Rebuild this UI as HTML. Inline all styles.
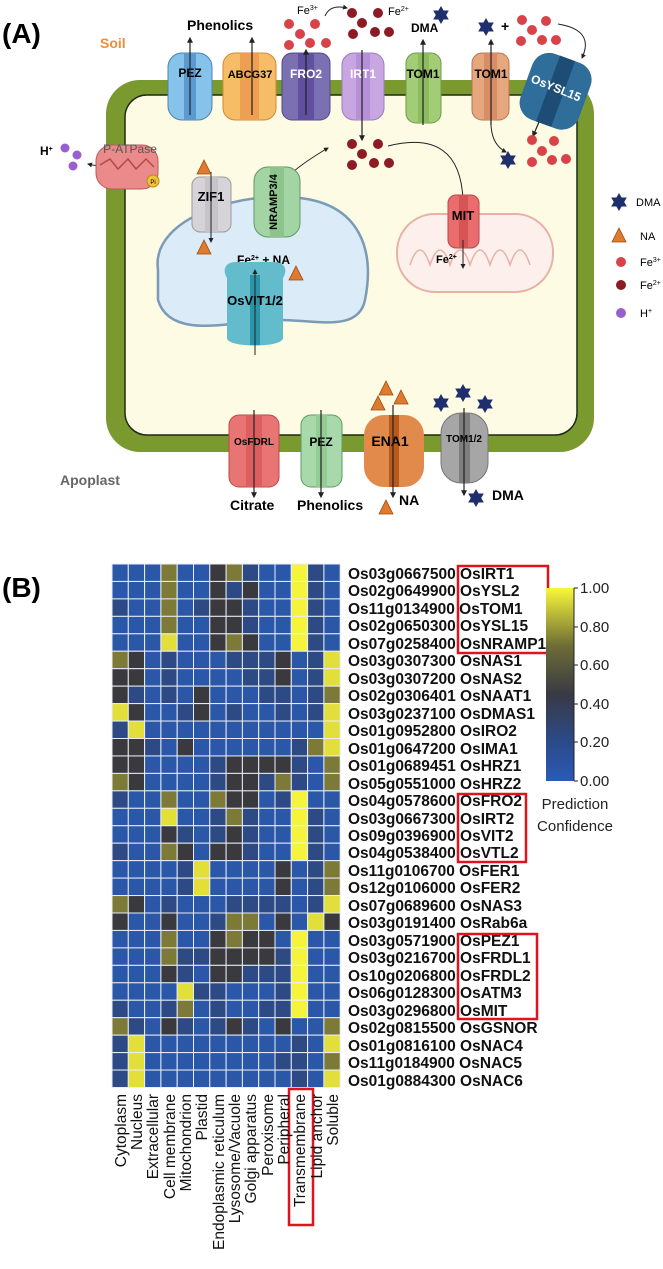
<!DOCTYPE html>
<html><head><meta charset="utf-8"><style>
html,body{margin:0;padding:0;background:#fff;}
svg{display:block;font-family:"Liberation Sans",Arial,sans-serif;}
</style></head><body>
<svg id="s" width="663" height="1269" viewBox="0 0 663 1269" xmlns="http://www.w3.org/2000/svg">
<defs>
<marker id="ah" viewBox="0 0 10 10" refX="8" refY="5" markerWidth="5" markerHeight="5" orient="auto"><path d="M0,0L10,5L0,10z" fill="#222"/></marker>
<g id="star"><polygon points="0,-9 2.6,-4.5 7.8,-4.5 5.2,0 7.8,4.5 2.6,4.5 0,9 -2.6,4.5 -7.8,4.5 -5.2,0 -7.8,-4.5 -2.6,-4.5" fill="#1f2f6e"/></g>
<g id="tri"><polygon points="0,-8 7,6 -7,6" fill="#e07a2e" stroke="#9a4a14" stroke-width="0.8"/></g>
</defs>
<!-- Panel A -->
<text x="2" y="43" font-size="28" font-weight="bold">(A)</text>
<text x="100" y="48" font-size="14" font-weight="bold" fill="#e8913a">Soil</text>
<rect x="106" y="80" width="488" height="372" rx="34" fill="#7a9a30"/>
<rect x="125" y="95" width="452" height="340" rx="22" fill="#fdfbe4" stroke="#1e2a14" stroke-width="1.5"/>
<g stroke-width="1">
<rect x="168" y="53" width="44" height="67" rx="14" fill="#86c3ea" stroke="#4a84b4"/><rect x="184" y="53" width="12" height="67" fill="#5a9ad0"/>
<rect x="223" y="53" width="53" height="67" rx="12" fill="#f7bd66" stroke="#d08a38"/><rect x="240" y="53" width="19" height="67" fill="#eda052"/>
<rect x="282" y="53" width="48" height="67" rx="10" fill="#7b70b2" stroke="#54488e"/><rect x="298" y="53" width="16" height="67" fill="#6150a0"/>
<rect x="342" y="53" width="42" height="67" rx="12" fill="#c7a6e2" stroke="#9a7cc0"/><rect x="356" y="53" width="14" height="67" fill="#b590d8"/>
<rect x="406" y="53" width="35" height="70" rx="10" fill="#a2cc76" stroke="#6e9a48"/><rect x="418" y="53" width="11" height="70" fill="#8cbc5e"/>
<rect x="472" y="53" width="37" height="67" rx="10" fill="#e6a67e" stroke="#b87450"/><rect x="484" y="53" width="13" height="67" fill="#d88e64"/>
<g transform="rotate(20 555 90)"><rect x="525" y="56" width="62" height="70" rx="18" fill="#2f6e9a"/><rect x="548" y="56" width="16" height="70" fill="#1d4d74"/></g>
</g>
<g font-size="12" font-weight="bold" text-anchor="middle">
<text x="190" y="77">PEZ</text><text x="250" y="78" font-size="11">ABCG37</text><text x="306" y="78" fill="#fff">FRO2</text>
<text x="363" y="78" fill="#fff">IRT1</text><text x="423" y="78">TOM1</text><text x="491" y="78">TOM1</text>
<text x="556" y="92" fill="#fff" transform="rotate(22 556 88)">OsYSL15</text>
</g>
<g stroke="#222" stroke-width="1.2" marker-end="url(#ah)">
<line x1="190" y1="115" x2="190" y2="38"/><line x1="252" y1="115" x2="252" y2="38"/><line x1="306" y1="115" x2="306" y2="50"/>
<line x1="362" y1="50" x2="362" y2="140"/><line x1="423" y1="125" x2="423" y2="40"/><line x1="491" y1="125" x2="491" y2="40"/>
<line x1="539" y1="122" x2="533" y2="136"/>
</g>
<g fill="none" stroke="#222" stroke-width="1" marker-end="url(#ah)">
<path d="M325,16 Q330,4 347,8"/><path d="M558,24 Q595,30 582,58"/><path d="M491,125 Q492,145 506,152"/>
<path d="M272,198 Q280,176 328,148"/><path d="M388,146 Q460,128 463,200"/><path d="M115,164 Q104,168 88,164"/>
</g>
<g font-size="14" font-weight="bold"><text x="187" y="30">Phenolics</text><text x="411" y="32" font-size="12">DMA</text></g>
<g font-size="11"><text x="297" y="14">Fe<tspan font-size="7" dy="-4">3+</tspan></text><text x="388" y="15">Fe<tspan font-size="7" dy="-4">2+</tspan></text>
<text x="501" y="31" font-size="14" font-weight="bold">+</text></g>
<use href="#star" x="441" y="15"/><use href="#star" x="486" y="27"/><use href="#star" x="508" y="160"/>
<g fill="#d8434a">
<circle cx="289" cy="24" r="5"/><circle cx="315" cy="24" r="5"/><circle cx="300" cy="34" r="5"/><circle cx="289" cy="45" r="5"/><circle cx="310" cy="43" r="5"/><circle cx="326" cy="43" r="5"/>
<circle cx="522" cy="20" r="5"/><circle cx="546" cy="21" r="5"/><circle cx="532" cy="30" r="5"/><circle cx="521" cy="41" r="5"/><circle cx="542" cy="40" r="5"/><circle cx="556" cy="40" r="5"/>
<circle cx="532" cy="140" r="5"/><circle cx="554" cy="141" r="5"/><circle cx="542" cy="151" r="5"/><circle cx="532" cy="162" r="5"/><circle cx="552" cy="160" r="5"/><circle cx="566" cy="159" r="5"/>
</g>
<g fill="#8c1b24">
<circle cx="352" cy="13" r="5"/><circle cx="378" cy="13" r="5"/><circle cx="362" cy="23" r="5"/><circle cx="353" cy="34" r="5"/><circle cx="375" cy="32" r="5"/><circle cx="389" cy="32" r="5"/>
<circle cx="352" cy="144" r="5"/><circle cx="378" cy="144" r="5"/><circle cx="362" cy="154" r="5"/><circle cx="352" cy="165" r="5"/><circle cx="374" cy="163" r="5"/><circle cx="389" cy="163" r="5"/>
<circle cx="229" cy="270" r="5"/>
</g>
<text x="40" y="155" font-size="12" font-weight="bold">H<tspan font-size="7" dy="-4">+</tspan></text>
<g fill="#9a5fcf"><circle cx="65" cy="148" r="4.5"/><circle cx="77" cy="155" r="4.5"/><circle cx="73" cy="166" r="4.5"/></g>
<rect x="96" y="145" width="62" height="44" rx="16" fill="#ea8a8a" stroke="#b85a5a"/>
<path d="M100,165 l10,-6 l8,10 l10,-10 l8,10 l10,-10 l8,8" fill="none" stroke="#b04a4a" stroke-width="1.5"/>
<text x="130" y="153" font-size="12" text-anchor="middle" fill="#555">P-ATPase</text>
<circle cx="153" cy="181" r="6" fill="#f2c23a" stroke="#b88a10"/><text x="153" y="184" font-size="6" text-anchor="middle">Pi</text>
<path d="M158,270 C150,215 250,190 300,198 C360,205 375,250 365,300 C358,335 310,318 270,320 C230,322 170,340 158,300 Z" fill="#dcebf8" stroke="#7a9ab6" stroke-width="2.5"/>
<rect x="192" y="177" width="39" height="55" rx="8" fill="#d6d4d8" stroke="#9a9a9a"/><rect x="205" y="177" width="13" height="55" fill="#c6c4ca"/>
<text x="211" y="201" font-size="13" font-weight="bold" text-anchor="middle">ZIF1</text>
<line x1="211" y1="172" x2="211" y2="242" stroke="#222" marker-end="url(#ah)"/>
<use href="#tri" x="204" y="168"/><use href="#tri" x="204" y="248"/><use href="#tri" x="296" y="274"/>
<rect x="254" y="167" width="46" height="70" rx="14" fill="#a3d4a3" stroke="#5f9a5f"/><rect x="270" y="167" width="14" height="70" fill="#8cc48c"/>
<text x="277" y="202" font-size="11" font-weight="bold" text-anchor="middle" transform="rotate(-90 277 202)">NRAMP3/4</text>
<text x="237" y="264" font-size="12" font-weight="bold">Fe<tspan font-size="7" dy="-4">2+</tspan><tspan dy="4"> + NA</tspan></text>
<path d="M227,278 C222,270 225,262 236,262 L274,262 C285,262 288,270 283,278 L283,338 C283,348 227,348 227,338 Z" fill="#63bccb"/>
<rect x="250" y="275" width="10" height="70" fill="#2a95a8"/>
<text x="255" y="305" font-size="13" font-weight="bold" text-anchor="middle">OsVIT1/2</text>
<line x1="255" y1="355" x2="255" y2="270" stroke="#222" marker-end="url(#ah)"/>
<rect x="397" y="214" width="156" height="78" rx="38" fill="#fcefec" stroke="#e6b2a6" stroke-width="2"/>
<path d="M410,265 q10,-30 20,0 q10,-30 20,0 q10,-30 20,0 q10,-30 20,0 q10,-30 20,0 q10,-30 20,0" fill="none" stroke="#e6b2a6" stroke-width="1.5"/>
<rect x="448" y="195" width="31" height="53" rx="8" fill="#ea6c6c" stroke="#b84848"/><rect x="459" y="195" width="9" height="53" fill="#d65454"/>
<text x="463" y="220" font-size="13" font-weight="bold" text-anchor="middle">MIT</text>
<line x1="463" y1="240" x2="463" y2="268" stroke="#222" marker-end="url(#ah)"/>
<text x="436" y="263" font-size="11" font-weight="bold">Fe<tspan font-size="7" dy="-4">2+</tspan></text>
<use href="#star" x="619" y="202"/><text x="636" y="206" font-size="11">DMA</text>
<use href="#tri" x="619" y="236"/><text x="640" y="240" font-size="11">NA</text>
<circle cx="621" cy="262" r="5" fill="#d8434a"/><text x="640" y="266" font-size="11">Fe<tspan font-size="7" dy="-4">3+</tspan></text>
<circle cx="621" cy="285" r="5" fill="#8c1b24"/><text x="640" y="289" font-size="11">Fe<tspan font-size="7" dy="-4">2+</tspan></text>
<circle cx="621" cy="313" r="5" fill="#9a5fcf"/><text x="640" y="317" font-size="11">H<tspan font-size="7" dy="-4">+</tspan></text>
<rect x="229" y="415" width="50" height="72" rx="10" fill="#e87474" stroke="#b84a4a"/><rect x="246" y="415" width="16" height="72" fill="#dc5e5e"/>
<rect x="301" y="415" width="41" height="72" rx="10" fill="#a8d9aa" stroke="#5f9a62"/><rect x="316" y="415" width="11" height="72" fill="#94cc98"/>
<rect x="364" y="415" width="60" height="72" rx="20" fill="#e28a4c"/><rect x="389" y="415" width="10" height="72" fill="#b85a1e"/>
<rect x="441" y="413" width="47" height="70" rx="20" fill="#a6a6a6" stroke="#777"/><rect x="459" y="413" width="11" height="70" fill="#7e7e7e"/>
<g font-size="12" font-weight="bold" text-anchor="middle">
<text x="254" y="445" font-size="10">OsFDRL</text><text x="321" y="446">PEZ</text><text x="390" y="446" font-size="14">ENA1</text><text x="464" y="442" font-size="10">TOM1/2</text>
</g>
<g stroke="#222" stroke-width="1.2" marker-end="url(#ah)">
<line x1="254" y1="410" x2="254" y2="497"/><line x1="321" y1="410" x2="321" y2="497"/><line x1="393" y1="405" x2="393" y2="497"/><line x1="464" y1="408" x2="464" y2="495"/>
</g>
<use href="#tri" x="386" y="389"/><use href="#tri" x="401" y="398"/><use href="#tri" x="378" y="404"/><use href="#tri" x="386" y="508"/>
<use href="#star" x="441" y="403"/><use href="#star" x="463" y="393"/><use href="#star" x="485" y="404"/><use href="#star" x="476" y="498"/>
<g font-size="14" font-weight="bold"><text x="230" y="510">Citrate</text><text x="297" y="510">Phenolics</text><text x="399" y="505">NA</text><text x="492" y="500">DMA</text></g>
<text x="60" y="485" font-size="14" font-weight="bold" fill="#666">Apoplast</text>
<!-- Panel B -->
<text x="2" y="597" font-size="28" font-weight="bold">(B)</text>
<g id="hm"></g>
<g font-size="15.5" font-weight="bold" fill="#111">
<text x="348" y="579">Os03g0667500 OsIRT1</text><text x="348" y="596">Os02g0649900 OsYSL2</text><text x="348" y="614">Os11g0134900 OsTOM1</text>
<text x="348" y="631">Os02g0650300 OsYSL15</text><text x="348" y="649">Os07g0258400 OsNRAMP1</text><text x="348" y="666">Os03g0307300 OsNAS1</text>
<text x="348" y="684">Os03g0307200 OsNAS2</text><text x="348" y="701">Os02g0306401 OsNAAT1</text><text x="348" y="719">Os03g0237100 OsDMAS1</text>
<text x="348" y="736">Os01g0952800 OsIRO2</text><text x="348" y="754">Os01g0647200 OsIMA1</text><text x="348" y="771">Os01g0689451 OsHRZ1</text>
<text x="348" y="789">Os05g0551000 OsHRZ2</text><text x="348" y="806">Os04g0578600 OsFRO2</text><text x="348" y="824">Os03g0667300 OsIRT2</text>
<text x="348" y="841">Os09g0396900 OsVIT2</text><text x="348" y="858">Os04g0538400 OsVTL2</text><text x="348" y="876">Os11g0106700 OsFER1</text>
<text x="348" y="893">Os12g0106000 OsFER2</text><text x="348" y="911">Os07g0689600 OsNAS3</text><text x="348" y="928">Os03g0191400 OsRab6a</text>
<text x="348" y="946">Os03g0571900 OsPEZ1</text><text x="348" y="963">Os03g0216700 OsFRDL1</text><text x="348" y="981">Os10g0206800 OsFRDL2</text>
<text x="348" y="998">Os06g0128300 OsATM3</text><text x="348" y="1016">Os03g0296800 OsMIT</text><text x="348" y="1033">Os02g0815500 OsGSNOR</text>
<text x="348" y="1051">Os01g0816100 OsNAC4</text><text x="348" y="1068">Os11g0184900 OsNAC5</text><text x="348" y="1086">Os01g0884300 OsNAC6</text>
</g>
<g fill="none" stroke="#e0141e" stroke-width="2.5">
<rect x="458" y="566" width="90" height="87"/><rect x="458" y="794" width="68" height="68"/><rect x="458" y="934" width="79" height="85"/>
<rect x="289" y="1089" width="24" height="136"/>
</g>
<defs><linearGradient id="cb" x1="0" y1="1" x2="0" y2="0">
<stop offset="0" stop-color="#2a5ab8"/><stop offset="0.2" stop-color="#2c4a8a"/><stop offset="0.45" stop-color="#383a44"/><stop offset="0.7" stop-color="#6e6c36"/><stop offset="1" stop-color="#f8f83a"/>
</linearGradient></defs>
<rect x="546" y="588" width="28" height="193" fill="url(#cb)"/>
<g stroke="#222" stroke-width="1"><line x1="574" y1="588" x2="574" y2="781"/>
<line x1="574" y1="588" x2="578" y2="588"/><line x1="574" y1="627" x2="578" y2="627"/><line x1="574" y1="665" x2="578" y2="665"/><line x1="574" y1="704" x2="578" y2="704"/><line x1="574" y1="742" x2="578" y2="742"/><line x1="574" y1="781" x2="578" y2="781"/></g>
<g font-size="15" fill="#222"><text x="580" y="593">1.00</text><text x="580" y="632">0.80</text><text x="580" y="670">0.60</text><text x="580" y="709">0.40</text><text x="580" y="747">0.20</text><text x="580" y="786">0.00</text>
<text x="575" y="809" text-anchor="middle">Prediction</text><text x="575" y="831" text-anchor="middle">Confidence</text></g>
<g font-size="15.5" fill="#111" text-anchor="end">
<text transform="translate(126,1094) rotate(-90)">Cytoplasm</text>
<text transform="translate(142,1094) rotate(-90)">Nucleus</text>
<text transform="translate(158,1094) rotate(-90)">Extracellular</text>
<text transform="translate(175,1094) rotate(-90)">Cell membrane</text>
<text transform="translate(191,1094) rotate(-90)">Mitochondrion</text>
<text transform="translate(207,1094) rotate(-90)">Plastid</text>
<text transform="translate(224,1094) rotate(-90)">Endoplasmic reticulum</text>
<text transform="translate(240,1094) rotate(-90)">Lysosome/Vacuole</text>
<text transform="translate(256,1094) rotate(-90)">Golgi apparatus</text>
<text transform="translate(273,1094) rotate(-90)">Peroxisome</text>
<text transform="translate(289,1094) rotate(-90)">Peripheral</text>
<text transform="translate(305,1094) rotate(-90)">Transmembrane</text>
<text transform="translate(322,1094) rotate(-90)">Lipid anchor</text>
<text transform="translate(338,1094) rotate(-90)">Soluble</text>
</g>
</svg>
<script>
var rows=["BBBOBBDObBBYbB","BBBOBBDbDBBYbB","bBBOBbDDbBBYbB","BBBOBBDDbBBYbB","BBBYBBDODBBYbB",
"ODBbBBBbbbDBbY","DDBbBBBBbbDBbY","DbBbBDBBBbbBbO","YDBBbDBbBBbBbY","bYBBBBBBBBBBBY",
"DDbBDBBBBBBbOY","DDBBBBbDDDDbBO","ODBBBBbDDbObBO","bBBOBBODDBbYBB","BBBYBBbObBBYbB",
"BBBDbBbDbBBYbB","bBBODBDDbBBYbB","BBBBbYBBBBDBbO","BBBBbYBBBBDBbO","ODBbBBBbbbbBbY",
"DBBDBBbOOBDBYD","BBBOBBDODDBYBB","BBBObbDDDDbYBB","BBBDbBDDbbbYBB","BBBBYbbBBBbYBB",
"bBBbOBbBBbbYBB","ObBDbBbDbBDBBO","bYBBBBBBBBBbBY","bYBBBBBBBBbbBO","bYBBBBBBBBBbBY"];
var col={B:"#2b57a8",b:"#2e4a84",D:"#3a3a3e",O:"#7c7a36",Y:"#e2de3a"};
var g=document.getElementById("hm"),ns="http://www.w3.org/2000/svg";
for(var r=0;r<30;r++)for(var c=0;c<14;c++){var ch=rows[r][c];var f=col[ch];if(ch=="Y"&&c==11)f="#f6f43a";
var e=document.createElementNS(ns,"rect");e.setAttribute("x",112+c*16.3);e.setAttribute("y",564+r*17.45);
e.setAttribute("width",16.3);e.setAttribute("height",17.45);e.setAttribute("fill",f);e.setAttribute("stroke","#e8eef8");e.setAttribute("stroke-width","1");g.appendChild(e);}
</script>
</body></html>
